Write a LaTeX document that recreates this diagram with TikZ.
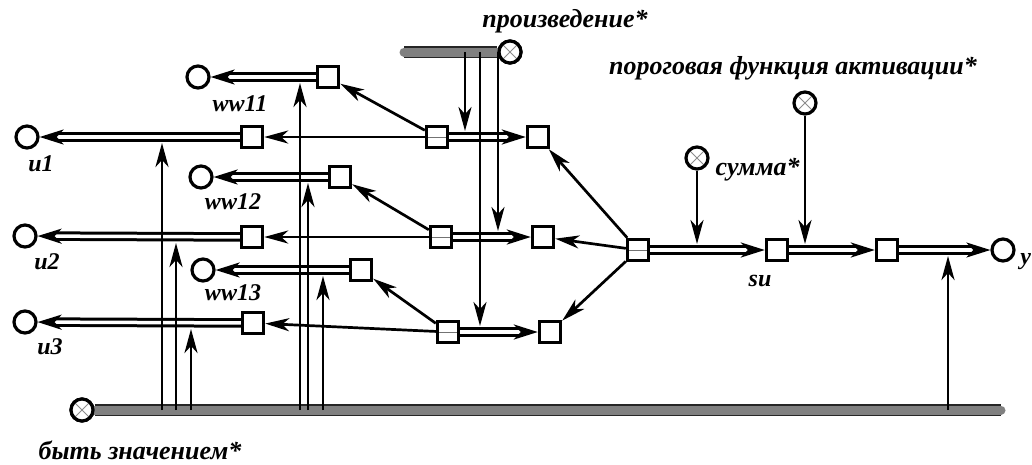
\documentclass[tikz,border=0pt]{standalone}
\usepackage{fontspec}
\setmainfont{Liberation Serif}
\usetikzlibrary{arrows.meta}

\begin{document}
\begin{tikzpicture}[x=1pt,y=-1pt,>={Stealth[length=24pt,width=13pt,inset=7pt]},
  line width=2.7pt,
  box node/.style={rectangle,draw,line width=3.4pt,fill=white,
  minimum size=21pt,inner sep=0pt},
  pair node/.style={box node,path picture={\draw[line width=0.8pt,black!55]
    (path picture bounding box.west) -- (path picture bounding box.east);}},
  out node/.style={circle,draw,line width=3.2pt,fill=white,
  minimum size=22pt,inner sep=0pt},
  op node/.style={out node,path picture={\draw[line width=0.9pt,black!45]
    (path picture bounding box.north west) -- (path picture bounding box.south east)
    (path picture bounding box.north east) -- (path picture bounding box.south west);}},
  flow/.style={double=white,double distance=3.5pt,line width=3pt,
  -{Stealth[length=24pt,width=15pt,inset=7pt]}},
  bar/.style={line width=9pt,line cap=round,draw=black!50,
  preaction={draw=black!85,line width=12pt}},
  lbl/.style={font=\fontsize{24}{26}\selectfont\bfseries\itshape},
  txt/.style={font=\fontsize{26}{28}\selectfont\bfseries\itshape}]
  \useasboundingbox (0,0) rectangle (1032,464);

  % operations and their bars
  \node[op node] (PROD) at (510,52) {};
  \node[op node] (SUM) at (697,158) {};
  \node[op node] (THR) at (805,103) {};
  \node[op node] (VAL) at (82,410) {};
  \draw[bar] (404,52) -- (PROD);
  \draw[bar] (VAL) -- (1001,410);
  \node[op node] at (PROD) {};
  \node[op node] at (VAL) {};

  % outputs
  \node[out node] (U1) at (27,137) {};
  \node[out node] (U2) at (25,236) {};
  \node[out node] (U3) at (25,322) {};
  \node[out node] (WW11) at (198,77) {};
  \node[out node] (WW12) at (201,177) {};
  \node[out node] (WW13) at (203,270) {};
  \node[out node] (Y) at (1003,250) {};

  % cells
  \node[box node] (BW11) at (328,77) {};
  \node[box node] (BU1) at (252,137) {};
  \node[box node] (BW12) at (340,177) {};
  \node[box node] (BU2) at (252,237) {};
  \node[box node] (BW13) at (361,270) {};
  \node[box node] (BU3) at (253,323) {};
  \node[pair node] (P1) at (437,137) {};
  \node[pair node] (P2) at (441,237) {};
  \node[pair node] (P3) at (448,332) {};
  \node[box node] (R1) at (538,137) {};
  \node[box node] (R2) at (543,237) {};
  \node[box node] (R3) at (550,332) {};
  \node[pair node] (S) at (638,250) {};
  \node[box node] (SU) at (777,250) {};
  \node[box node] (ACT) at (887,250) {};

  % labels
  \node[lbl] at (41,164) {u1};
  \node[lbl] at (47,262) {u2};
  \node[lbl] at (50,347) {u3};
  \node[lbl] at (240,104) {ww11};
  \node[lbl] at (233,202) {ww12};
  \node[lbl] at (233,293) {ww13};
  \node[lbl] at (760,281) {su};
  \node[lbl,anchor=west,inner sep=0pt] at (1019,262) {y};
  \node[txt] at (565,21) {произведение*};
  \node[txt] at (793,68) {пороговая функция активации*};
  \node[txt,anchor=west] at (711,170) {сумма*};
  \node[txt,anchor=west] at (34,450) {быть значением*};

  \path
    (BW11) edge[flow] (WW11)
    (BU1) edge[flow] (U1)
    (BW12) edge[flow] (WW12)
    (BU2) edge[flow] (U2)
    (BW13) edge[flow] (WW13)
    (BU3) edge[flow] (U3)
    (P1) edge[flow] (R1)
    (P2) edge[flow] (R2)
    (P3) edge[flow] (R3)
    (S) edge[flow] (SU)
    (SU) edge[flow] (ACT)
    (ACT) edge[flow] (Y);

  \path[->]
    (P1) edge (BW11) edge (BU1)
    (P2) edge (BW12) edge (BU2)
    (P3) edge (BW13) edge (BU3)
    (S) edge (R1) edge (R2) edge (R3);

  % taps of the product bar
  \coordinate (pin1) at (465,131);
  \coordinate (pin2) at (498,231);
  \coordinate (pin3) at (480,326);
  \foreach \p in {pin1,pin2,pin3}
    \draw[->] (\p |- PROD) -- (\p);

  % sum and threshold inputs
  \coordinate (sumin) at (697,244);
  \coordinate (thrin) at (805,244);
  \path[->] (SUM) edge (sumin) (THR) edge (thrin);

  % taps of the value bar
  \foreach \x/\y [count=\i] in {162/143,176/243,191/329,300/83,308/183,323/276,948/256}
    \coordinate (tap\i) at (\x,\y);
  \foreach \i in {1,...,7}
    \draw[->] (tap\i |- VAL) -- (tap\i);
\end{tikzpicture}
\end{document}
